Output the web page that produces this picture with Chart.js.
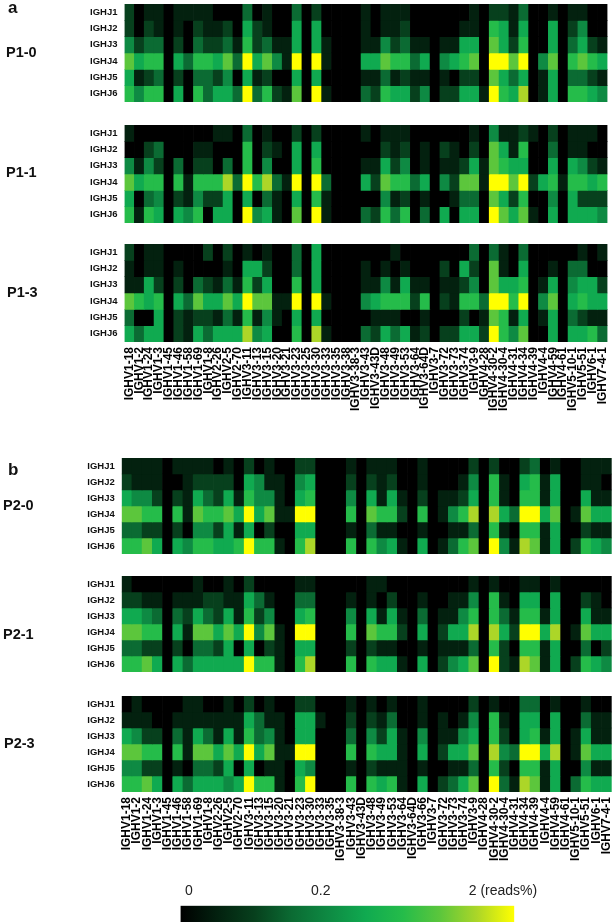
<!DOCTYPE html>
<html>
<head>
<meta charset="utf-8">
<title>IGHV / IGHJ usage heatmaps</title>
<script src="https://cdn.jsdelivr.net/npm/chart.js@4"></script>
<style>
  html,body{margin:0;padding:0;background:#fff;}
  #page{position:relative;width:614px;height:923px;overflow:hidden;font-family:"Liberation Sans",Arial,sans-serif;}
  canvas{position:absolute;left:0;}
  .tag{position:absolute;font-weight:bold;color:#111;line-height:1;white-space:nowrap;}
</style>
</head>
<body>
<div id="page"></div>
<script>
const rowLabels = ["IGHJ1","IGHJ2","IGHJ3","IGHJ4","IGHJ5","IGHJ6"];

const genesA = ["IGHV1-18","IGHV1-2","IGHV1-24","IGHV1-3","IGHV1-45","IGHV1-46","IGHV1-58","IGHV1-69","IGHV1-8","IGHV2-26",
  "IGHV2-5","IGHV2-70","IGHV3-11","IGHV3-13","IGHV3-15","IGHV3-20","IGHV3-21","IGHV3-23","IGHV3-25","IGHV3-30",
  "IGHV3-33","IGHV3-35","IGHV3-38","IGHV3-38-3","IGHV3-43","IGHV3-43D","IGHV3-48","IGHV3-49","IGHV3-53","IGHV3-64",
  "IGHV3-64D","IGHV3-7","IGHV3-72","IGHV3-73","IGHV3-74","IGHV3-9","IGHV4-28","IGHV4-30-2","IGHV4-30-4","IGHV4-31",
  "IGHV4-34","IGHV4-39","IGHV4-4","IGHV4-59","IGHV4-61","IGHV5-10-1","IGHV5-51","IGHV6-1","IGHV7-4-1"];
const genesB = ["IGHV1-18","IGHV1-2","IGHV1-24","IGHV1-3","IGHV1-45","IGHV1-46","IGHV1-58","IGHV1-69","IGHV1-8","IGHV2-26",
  "IGHV2-5","IGHV2-70","IGHV3-11","IGHV3-13","IGHV3-15","IGHV3-20","IGHV3-21","IGHV3-23","IGHV3-30","IGHV3-33",
  "IGHV3-35","IGHV3-38-3","IGHV3-43","IGHV3-43D","IGHV3-48","IGHV3-49","IGHV3-53","IGHV3-64","IGHV3-64D","IGHV3-66",
  "IGHV3-7","IGHV3-72","IGHV3-73","IGHV3-74","IGHV3-9","IGHV4-28","IGHV4-30-2","IGHV4-30-4","IGHV4-31","IGHV4-34",
  "IGHV4-39","IGHV4-4","IGHV4-59","IGHV4-61","IGHV5-10-1","IGHV5-51","IGHV6-1","IGHV7-4-1"];

const p10 = [
  [2,0,1,1,0,1,1,1,1,0, 0,0,3,0,1,0,0,3,0,2, 0,0,0,0,1,0,1,1,1,0, 0,0,0,0,0,1,0,2,2,1, 3,0,0,1,0,1,1,0,0],
  [2,0,2,1,0,1,0,2,1,1, 2,0,5,2,1,0,0,5,0,5, 0,0,0,0,1,0,1,1,2,0, 0,0,0,0,1,1,0,6,5,1, 5,0,0,5,0,2,4,0,0],
  [4,2,3,3,0,2,0,3,2,2, 3,1,6,2,3,1,1,5,0,5, 1,0,0,0,1,1,4,2,3,1, 1,0,1,1,5,5,0,7,5,2, 6,0,0,5,0,3,5,2,1],
  [7,5,6,6,0,5,3,6,6,5, 7,3,9,5,7,4,1,9,0,9, 1,0,0,0,5,5,7,6,6,3, 5,0,4,5,6,7,0,9,9,7, 9,0,4,7,0,6,7,6,5],
  [5,1,2,3,0,2,0,3,3,2, 4,0,5,1,2,0,0,5,0,5, 0,0,0,0,1,1,3,1,2,1, 1,0,1,0,2,2,0,7,5,3, 5,0,1,5,0,3,3,2,1],
  [6,4,6,6,0,5,0,6,3,5, 5,3,9,3,6,2,1,7,0,9, 1,0,0,0,3,2,6,5,5,2, 4,0,2,2,5,5,1,9,6,5, 8,0,1,5,0,6,6,5,4]
];
const p11 = [
  [1,0,0,0,0,0,0,0,0,1, 1,0,3,0,1,0,0,2,0,2, 0,0,0,0,1,0,1,1,1,0, 0,0,0,0,0,1,0,4,1,1, 2,1,0,2,0,1,1,1,0],
  [0,0,2,3,0,0,0,1,1,0, 0,0,6,0,2,1,0,5,0,5, 0,0,0,0,0,0,2,1,2,0, 1,0,2,1,0,2,0,7,5,1, 6,0,0,3,0,1,1,0,0],
  [4,1,4,2,0,3,0,2,2,0, 3,0,6,0,4,0,0,5,0,6, 0,0,0,0,1,1,5,2,4,0, 1,0,1,1,2,5,1,7,6,5, 5,0,0,5,0,5,4,2,1],
  [7,5,6,6,0,6,1,6,6,6, 8,3,9,6,8,3,1,9,0,9, 3,0,0,0,5,2,7,6,6,3, 5,0,4,2,7,7,1,9,9,7, 9,2,5,6,1,6,6,5,6],
  [5,0,3,4,0,2,1,4,2,2, 5,0,5,0,3,1,0,5,0,6, 1,0,0,0,0,0,4,1,2,0, 1,0,0,1,3,3,0,7,5,2, 6,0,0,4,0,5,2,2,2],
  [6,1,6,5,0,5,4,6,0,5, 5,0,9,4,5,1,0,7,0,9, 1,0,0,0,3,2,6,3,6,0, 3,0,5,0,5,5,0,9,7,5, 7,1,0,5,0,5,5,5,4]
];
const p13 = [
  [2,0,1,1,0,0,0,0,2,0, 2,0,1,0,1,0,0,3,0,5, 0,0,0,0,0,0,0,1,0,0, 0,0,0,0,0,3,0,3,1,0, 3,0,0,0,0,0,1,0,1],
  [1,0,1,1,0,1,0,0,0,0, 1,0,5,5,2,0,0,3,0,5, 0,0,0,0,1,0,1,0,1,0, 0,0,2,0,5,2,0,7,1,0, 5,0,0,1,0,3,3,0,0],
  [1,1,5,2,0,2,0,3,2,1, 3,1,6,2,5,0,0,6,0,5, 0,0,0,0,1,1,4,1,5,1, 1,0,1,1,2,4,0,7,5,5, 6,0,1,5,0,4,5,5,2],
  [7,6,5,6,0,5,3,7,5,5, 7,5,9,7,7,1,1,9,0,9, 1,0,0,0,4,5,6,6,6,2, 6,0,2,1,6,6,3,9,9,6, 9,0,4,7,0,5,6,5,5],
  [3,0,0,5,0,2,1,2,2,1, 3,1,6,1,4,1,0,5,0,5, 0,0,0,0,0,1,1,1,0,0, 1,0,0,0,2,0,1,7,6,1, 5,0,1,5,0,3,2,1,1],
  [5,3,5,5,0,2,1,5,3,5, 5,5,8,4,5,0,0,6,0,8, 1,0,0,0,3,2,5,3,5,1, 2,0,2,2,5,5,2,9,6,4, 7,0,0,5,0,5,5,6,3]
];
const p20 = [
  [1,1,1,1,0,1,1,1,1,0, 1,0,2,0,1,0,0,2,2,0, 0,0,1,0,1,1,1,0,0,1, 0,0,0,0,2,0,2,0,0,2, 3,0,1,0,0,1,1,1],
  [2,1,1,1,0,0,1,2,2,2, 2,0,5,4,1,1,0,4,5,0, 0,0,2,0,2,1,2,0,0,1, 0,0,0,1,4,0,6,1,0,5, 6,1,5,0,0,1,1,0],
  [5,4,4,2,0,2,1,5,3,2, 5,1,6,4,4,1,0,5,6,0, 0,0,4,0,5,1,5,1,0,2, 0,1,1,2,5,0,6,1,0,6, 6,1,5,0,0,5,1,1],
  [7,7,6,6,0,6,1,7,6,6, 7,5,9,5,7,1,1,9,9,0, 0,0,6,0,7,6,6,2,0,6, 0,1,4,6,8,0,8,5,3,9, 9,5,7,0,1,7,5,5],
  [3,3,2,2,0,2,0,4,4,2, 5,1,5,0,2,0,0,5,5,0, 0,0,1,0,3,1,1,0,0,1, 0,0,1,1,3,0,6,1,0,6, 6,1,5,0,0,2,1,1],
  [6,6,7,5,0,5,4,6,6,5, 5,6,9,6,6,1,0,6,8,0, 0,0,6,0,6,4,5,1,0,5, 0,1,3,6,7,0,9,4,1,8, 7,1,5,0,2,6,5,4]
];
const p21 = [
  [1,0,0,0,0,0,0,1,0,0, 1,0,2,0,0,0,0,1,1,0, 0,0,0,0,1,1,0,0,0,0, 0,0,0,0,1,0,1,0,0,1, 1,0,1,0,0,0,0,0],
  [2,2,1,1,0,1,1,1,2,2, 1,1,5,3,1,0,0,3,3,0, 0,0,1,0,1,0,2,0,0,1, 0,0,1,1,4,0,6,1,0,5, 5,0,5,0,0,2,1,0],
  [5,5,4,3,0,3,2,5,3,2, 5,1,6,2,4,0,0,5,6,0, 0,0,4,0,5,1,5,1,0,3, 0,1,1,4,6,0,6,3,1,6, 6,1,5,0,0,5,1,1],
  [7,7,6,6,0,5,1,7,7,5, 7,5,9,4,7,1,0,9,9,0, 0,0,6,0,7,6,6,2,0,5, 0,2,5,5,8,0,8,5,2,9, 9,5,8,0,1,7,5,5],
  [3,3,2,2,0,2,0,3,3,2, 5,0,5,0,2,1,0,5,5,0, 0,0,2,0,2,1,1,0,0,1, 0,1,1,1,3,0,6,2,0,6, 6,1,5,0,0,3,0,2],
  [6,6,7,5,0,5,3,5,5,5, 5,5,9,6,6,1,0,6,8,0, 0,0,6,0,6,5,5,1,0,5, 0,2,4,5,7,0,9,2,1,8, 7,1,5,0,2,6,5,4]
];
const p23 = [
  [0,1,0,0,0,0,1,1,0,0, 1,0,2,0,1,0,0,2,2,0, 0,0,1,0,1,0,1,0,0,1, 0,0,0,0,2,0,1,0,0,3, 3,0,1,0,0,1,0,0],
  [1,1,1,0,0,1,1,1,1,1, 1,1,5,3,1,1,0,5,5,1, 0,0,2,0,2,1,3,0,0,1, 0,1,0,1,4,0,6,1,0,5, 5,0,5,0,0,3,1,1],
  [5,4,2,2,0,3,1,5,3,1, 5,1,6,3,4,1,0,5,5,0, 0,0,3,0,4,2,5,1,0,4, 0,1,1,4,5,0,6,2,0,5, 6,1,5,0,1,5,1,1],
  [7,7,6,6,0,6,1,7,7,5, 7,5,9,5,7,1,1,9,9,0, 0,0,6,0,6,5,5,1,0,5, 0,2,5,5,7,0,8,4,3,9, 9,5,8,0,1,7,5,5],
  [4,4,2,2,0,1,0,3,3,2, 5,0,5,0,1,1,0,5,4,0, 0,0,1,0,2,1,1,1,0,1, 0,0,1,1,3,0,6,2,0,6, 6,1,5,0,0,4,1,1],
  [6,6,7,5,0,5,3,5,5,5, 4,5,9,6,6,1,0,6,9,0, 0,0,6,0,6,5,6,1,0,5, 0,2,3,5,7,0,9,3,1,8, 7,1,5,0,3,6,5,5]
];

const barTickPos = [0.025, 0.42, 0.966];
const barTickLabels = ["0", "0.2", "2 (reads%)"];

// colour of each step
const stepColors = ["#000000","#03210f","#07401d","#0b6b33","#0e8a43","#10aa50","#25bc4a","#5cc63c","#acd628","#ffff00"];

const FONT = '"Liberation Sans", Arial, sans-serif';
const page = document.getElementById("page");

function addCanvas(top, h){
  const c = document.createElement("canvas");
  c.width = 614; c.height = h;
  c.style.top = top + "px";
  page.appendChild(c);
  return c;
}
function addTag(txt, x, y, size){
  const d = document.createElement("div");
  d.className = "tag";
  d.textContent = txt;
  d.style.left = x + "px";
  d.style.top = y + "px";
  d.style.fontSize = size + "px";
  page.appendChild(d);
}
// the scale would otherwise keep room for half a tick label at each end
function noPad(s){ s.paddingTop = 0; s.paddingBottom = 0; s.paddingLeft = 0; s.paddingRight = 0; }

function drawPanel(vals, genes, top, h, left, right, withLabels){
  const labelH = withLabels ? 80 : 0;
  new Chart(addCanvas(top, h + labelH), {
    type: "bar",
    data: {
      labels: genes,
      datasets: vals.map((row, i) => ({
        label: rowLabels[i],
        data: row.map(() => 1),
        backgroundColor: row.map(v => stepColors[v]),
        borderWidth: 0,
        categoryPercentage: 1,
        barPercentage: 1
      }))
    },
    options: {
      responsive: false, animation: false, devicePixelRatio: 1,
      layout: { padding: { left: 0, right: 614 - right, top: 0, bottom: 0 } },
      plugins: { legend: { display: false }, tooltip: { enabled: false } },
      scales: {
        x: {
          stacked: true,
          display: withLabels,
          grid: { display: false, drawTicks: false },
          border: { display: false },
          afterFit: s => { s.height = labelH; noPad(s); },
          ticks: { autoSkip: false, minRotation: 90, maxRotation: 90, padding: 5, color: "#000",
                   font: { family: FONT, size: 12, weight: "bold" } }
        },
        y: {
          stacked: true, reverse: true, min: 0, max: 6,
          grid: { display: false, drawTicks: false },
          border: { display: false },
          afterFit: s => { s.width = left; noPad(s); },
          afterBuildTicks: s => { s.ticks = rowLabels.map((_, i) => ({ value: i + 0.5 })); },
          ticks: { autoSkip: false, padding: 7, color: "#111",
                   callback: (v, i) => rowLabels[i],
                   font: { family: FONT, size: 9.5, weight: "bold" } }
        }
      }
    }
  });
}

function drawColorBar(){
  new Chart(addCanvas(880, 42), {
    type: "bar",
    data: {
      labels: [""],
      datasets: [{
        data: [1],
        barPercentage: 1, categoryPercentage: 1, borderWidth: 0,
        backgroundColor: ctx => {
          const a = ctx.chart.chartArea;
          if(!a) return "#000";
          const g = ctx.chart.ctx.createLinearGradient(a.left, 0, a.right, 0);
          stepColors.forEach((c, i) => g.addColorStop(i / (stepColors.length - 1), c));
          return g;
        }
      }]
    },
    options: {
      indexAxis: "y",
      responsive: false, animation: false, devicePixelRatio: 1,
      layout: { padding: { left: 180.5, right: 99.7, top: 0, bottom: 0 } },
      plugins: { legend: { display: false }, tooltip: { enabled: false } },
      scales: {
        x: {
          position: "top", min: 0, max: 1,
          grid: { display: false, drawTicks: false },
          border: { display: false },
          afterFit: s => { s.height = 25.7; noPad(s); },
          afterBuildTicks: s => { s.ticks = barTickPos.map(v => ({ value: v })); },
          ticks: { autoSkip: false, maxRotation: 0, padding: 6, color: "#222",
                   callback: (v, i) => barTickLabels[i],
                   font: { family: FONT, size: 14 } }
        },
        y: { display: false }
      }
    }
  });
}

drawPanel(p10, genesA,   4,   98, 124.5, 607.5, false);
drawPanel(p11, genesA, 125,   98, 124.5, 607.5, false);
drawPanel(p13, genesA, 244,   98, 124.5, 607.5, true);
drawPanel(p20, genesB, 458.3, 96.7, 121.7, 611.7, false);
drawPanel(p21, genesB, 575.7, 96.7, 121.7, 611.7, false);
drawPanel(p23, genesB, 695.7, 96.7, 121.7, 611.7, true);
drawColorBar();

addTag("a", 8, -1, 17);
addTag("b", 8, 461, 17);
addTag("P1-0", 6, 45, 14.5);
addTag("P1-1", 6, 165, 14.5);
addTag("P1-3", 7, 285, 14.5);
addTag("P2-0", 3, 498, 14.5);
addTag("P2-1", 3, 627, 14.5);
addTag("P2-3", 4, 736, 14.5);
</script>
</body>
</html>
